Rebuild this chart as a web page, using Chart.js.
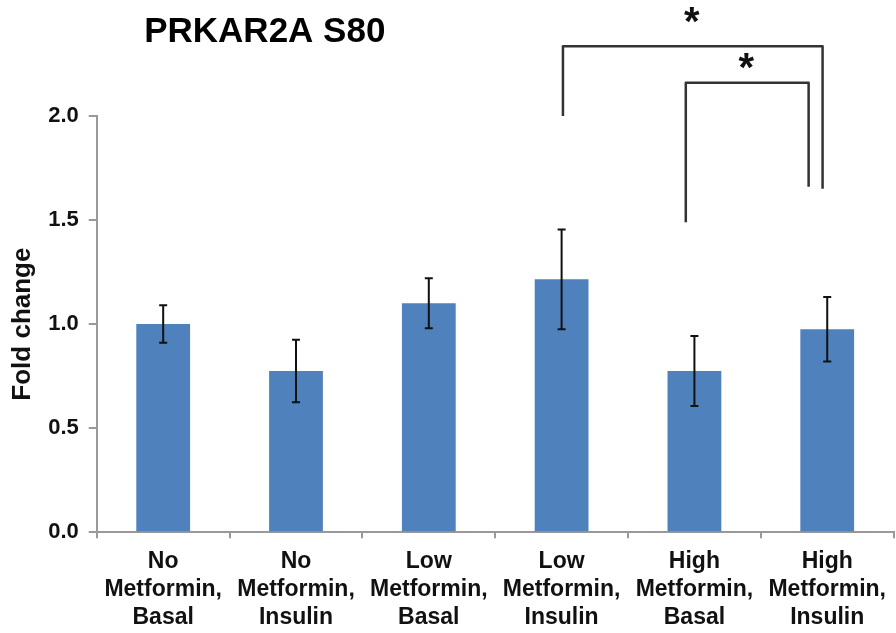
<!DOCTYPE html>
<html>
<head>
<meta charset="utf-8">
<script src="https://cdn.jsdelivr.net/npm/chart.js@4"></script>
<style>
  body { margin: 0; background: #fff; }
</style>
</head>
<body>
<canvas id="foldChart" width="896" height="633"></canvas>
<script>
// Groups on the x axis (each label is split in three lines)
var groups = [
    ['No', 'Metformin,', 'Basal'],
    ['No', 'Metformin,', 'Insulin'],
    ['Low', 'Metformin,', 'Basal'],
    ['Low', 'Metformin,', 'Insulin'],
    ['High', 'Metformin,', 'Basal'],
    ['High', 'Metformin,', 'Insulin']
];
var foldChange = [1.00, 0.775, 1.10, 1.215, 0.775, 0.975]; // mean fold change
var errorSize = [0.09, 0.15, 0.12, 0.24, 0.168, 0.155];   // +/- error bar
var yTicks = [0.0, 0.5, 1.0, 1.5, 2.0];

// significance brackets: compared groups, height of the bar, bottom of each leg
var bracketFrom = [3, 4];
var bracketTo = [5, 5];
var bracketTop = [2.335, 2.16];
var legFromEnd = [2.0, 1.49];
var legToEnd = [1.65, 1.66];
var bracketMark = ['*', '*'];
var markLevel = [2.483, 2.262];

var FONT = '"Liberation Sans", Arial, sans-serif';

var errorBars = {
    id: 'errorBars',
    afterDatasetsDraw: function (chart) {
        var ctx = chart.ctx;
        var y = chart.scales.y;
        var bars = chart.getDatasetMeta(0).data;
        ctx.save();
        ctx.strokeStyle = '#111';
        ctx.lineWidth = 2;
        bars.forEach(function (bar, i) {
            var top = y.getPixelForValue(foldChange[i] + errorSize[i]);
            var bot = y.getPixelForValue(foldChange[i] - errorSize[i]);
            ctx.beginPath();
            ctx.moveTo(bar.x, top);
            ctx.lineTo(bar.x, bot);
            ctx.moveTo(bar.x - 4, top);
            ctx.lineTo(bar.x + 4, top);
            ctx.moveTo(bar.x - 4, bot);
            ctx.lineTo(bar.x + 4, bot);
            ctx.stroke();
        });
        ctx.restore();
    }
};

// small horizontal nudges of the bracket legs, in fractions of a category
var legShiftFrom = [0.01, -0.065];
var legShiftTo = [-0.035, -0.14];

var brackets = {
    id: 'brackets',
    afterDraw: function (chart) {
        var ctx = chart.ctx;
        var x = chart.scales.x;
        var y = chart.scales.y;
        var band = x.getPixelForValue(1) - x.getPixelForValue(0);
        ctx.save();
        ctx.strokeStyle = '#333';
        ctx.lineWidth = 2.5;
        ctx.lineJoin = 'round';
        for (var i = 0; i < bracketFrom.length; i++) {
            var x1 = x.getPixelForValue(bracketFrom[i]) + legShiftFrom[i] * band;
            var x2 = x.getPixelForValue(bracketTo[i]) + legShiftTo[i] * band;
            var yt = y.getPixelForValue(bracketTop[i]);
            ctx.beginPath();
            ctx.moveTo(x1, y.getPixelForValue(legFromEnd[i]));
            ctx.lineTo(x1, yt);
            ctx.lineTo(x2, yt);
            ctx.lineTo(x2, y.getPixelForValue(legToEnd[i]));
            ctx.stroke();
            ctx.fillStyle = '#111';
            ctx.font = 'bold 40px ' + FONT;
            ctx.textAlign = 'center';
            ctx.textBaseline = 'alphabetic';
            // the asterisk glyph sits about 20px above its baseline
            ctx.fillText(bracketMark[i], (x1 + x2) / 2 - 1, y.getPixelForValue(markLevel[i]) + 20);
        }
        // chart title
        ctx.fillStyle = '#000';
        ctx.font = 'bold 35px ' + FONT;
        ctx.textAlign = 'center';
        ctx.fillText('PRKAR2A S80', chart.chartArea.left + 168, 42);
        ctx.restore();
    }
};

var ctx = document.getElementById('foldChart').getContext('2d');
var foldChart = new Chart(ctx, {
    type: 'bar',
    data: {
        labels: groups,
        datasets: [{
            label: 'PRKAR2A S80',
            data: foldChange,
            backgroundColor: '#4F81BD',
            barPercentage: 0.405,
            categoryPercentage: 1.0
        }]
    },
    options: {
        responsive: false,
        animation: false,
        layout: {
            padding: { top: 116, left: 7, right: 0, bottom: -8 }
        },
        plugins: {
            legend: { display: false },
            tooltip: { enabled: false }
        },
        scales: {
            x: {
                grid: { drawOnChartArea: false, color: '#999', tickLength: 6, lineWidth: 2 },
                border: { color: '#999', width: 2 },
                ticks: {
                    color: '#111',
                    font: { family: FONT, size: 23, weight: 'bold', lineHeight: 1.2 },
                    padding: 10,
                    maxRotation: 0,
                    autoSkip: false
                }
            },
            y: {
                min: 0,
                max: 2,
                afterBuildTicks: function (scale) {
                    scale.ticks = yTicks.map(function (v) { return { value: v }; });
                },
                grid: { drawOnChartArea: false, color: '#999', tickLength: 8, lineWidth: 2 },
                border: { color: '#999', width: 2 },
                ticks: {
                    color: '#111',
                    font: { family: FONT, size: 22, weight: 'bold' },
                    padding: 10,
                    callback: function (v) { return v.toFixed(1); }
                },
                title: {
                    display: true,
                    text: 'Fold change',
                    color: '#111',
                    font: { family: FONT, size: 26, weight: 'bold' },
                    padding: { top: 0, bottom: 0 }
                }
            }
        }
    },
    plugins: [errorBars, brackets]
});
</script>
</body>
</html>
